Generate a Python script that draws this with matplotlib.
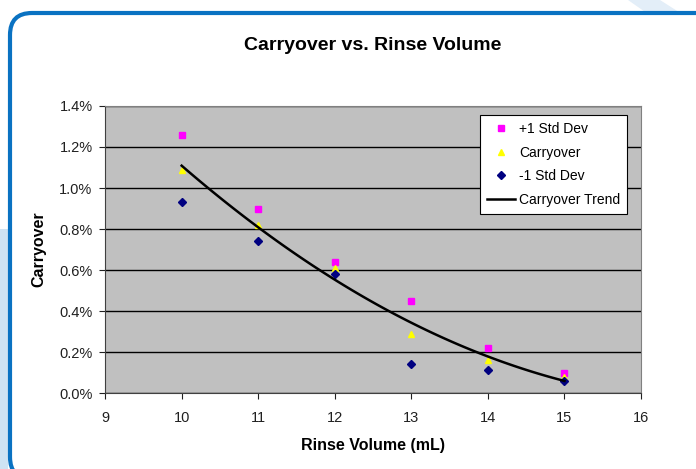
import matplotlib.pyplot as plt
import numpy as np
from matplotlib.patches import FancyBboxPatch, Polygon, Rectangle
from matplotlib.ticker import FuncFormatter

plt.rcParams['font.family'] = ['Liberation Sans', 'DejaVu Sans']

# Données (carryover en %)
rinse_volume = [10, 11, 12, 13, 14, 15]
plus_1_std = [1.26, 0.90, 0.64, 0.45, 0.22, 0.10]
carryover = [1.09, 0.82, 0.61, 0.29, 0.16, 0.08]
minus_1_std = [0.93, 0.74, 0.58, 0.14, 0.11, 0.06]
y_ticks = [0.0, 0.2, 0.4, 0.6, 0.8, 1.0, 1.2, 1.4]
x_ticks = [9, 10, 11, 12, 13, 14, 15, 16]

# Courbe de tendance polynomiale (ordre 2), comme dans Excel
coeffs = np.polyfit(rinse_volume, carryover, 2)
trend_x = np.linspace(10, 15, 100)
trend_y = np.polyval(coeffs, trend_x)

fig = plt.figure(figsize=(6.96, 4.69), dpi=100)

# Cadre bleu arrondi (derrière les axes)
fig.patches.append(Rectangle((0, 0), 8, 240, transform=None, facecolor='#cfe3f3',
                             edgecolor='none', zorder=-3))
fig.patches.append(Polygon([(628, 469), (660, 469), (682, 455), (648, 455)], closed=True,
                           transform=None, facecolor='#e3eef8', edgecolor='none', zorder=-3))
fig.patches.append(FancyBboxPatch((10, -10), 720, 466, boxstyle='round,pad=0,rounding_size=22',
                                  transform=None, facecolor='white', edgecolor='#0a72c2',
                                  linewidth=3, zorder=-2))

ax = fig.add_axes([0.151, 0.162, 0.770, 0.612])
ax.set_facecolor('#c0c0c0')

ax.plot(rinse_volume, plus_1_std, 's', color='#ff00ff', markersize=5, label='+1 Std Dev', zorder=3)
ax.plot(rinse_volume, carryover, '^', color='#ffff00', markersize=5, label='Carryover', zorder=3)
ax.plot(rinse_volume, minus_1_std, 'D', color='#000080', markersize=4, label='-1 Std Dev', zorder=4)
ax.plot(trend_x, trend_y, color='black', linewidth=1.8, label='Carryover Trend', zorder=5)

ax.set_xlim(9, 16)
ax.set_ylim(0, 1.4)
ax.set_xticks(x_ticks)
ax.set_yticks(y_ticks)
ax.yaxis.set_major_formatter(FuncFormatter(lambda v, p: f'{v:.1f}%'))
ax.grid(axis='y', color='black', linewidth=1)
ax.set_axisbelow(True)
for s in ['top', 'right']:
    ax.spines[s].set_color('#808080')
for s in ['left', 'bottom']:
    ax.spines[s].set_color('#404040')
ax.tick_params(direction='out', length=4, labelsize=10.5, colors='#202020')
ax.tick_params(axis='x', pad=9)
ax.tick_params(axis='y', pad=5)

ax.set_title('Carryover vs. Rinse Volume', fontsize=14, fontweight='bold', pad=40)
ax.set_xlabel('Rinse Volume (mL)', fontsize=11.5, fontweight='bold', labelpad=9)
ax.set_ylabel('Carryover', fontsize=11.5, fontweight='bold', labelpad=9)

leg = ax.legend(loc='upper right', bbox_to_anchor=(0.974, 0.969), fontsize=10, frameon=True,
                fancybox=False, edgecolor='black', framealpha=1, borderpad=0.5,
                handlelength=2.0, handletextpad=0.3, labelspacing=0.7, borderaxespad=0)
leg.get_frame().set_linewidth(0.8)

plt.savefig('out.png', dpi=100)
plt.close()
